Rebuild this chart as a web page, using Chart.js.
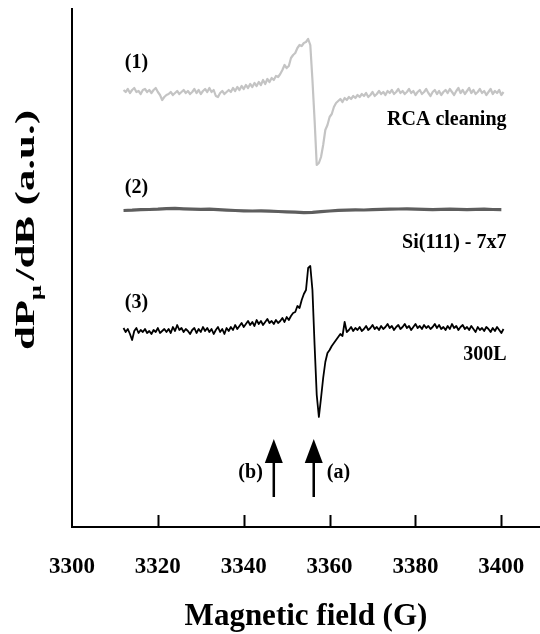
<!DOCTYPE html>
<html>
<head>
<meta charset="utf-8">
<script src="https://cdn.jsdelivr.net/npm/chart.js@4"></script>
<style>
  body { margin: 0; background: #fff; }
  canvas { display: block; }
</style>
</head>
<body>
<canvas id="eprChart" width="540" height="634"></canvas>
<script>
// field sweep (G) shared by traces (1) and (3)
var fieldG = [
  3312, 3312.5, 3313, 3313.5, 3314, 3314.5, 3315, 3315.5, 3316, 3316.5,
  3317, 3317.5, 3318, 3318.5, 3319, 3319.5, 3320, 3320.5, 3321, 3321.5,
  3322, 3322.5, 3323, 3323.5, 3324, 3324.5, 3325, 3325.5, 3326, 3326.5,
  3327, 3327.5, 3328, 3328.5, 3329, 3329.5, 3330, 3330.5, 3331, 3331.5,
  3332, 3332.5, 3333, 3333.5, 3334, 3334.5, 3335, 3335.5, 3336, 3336.5,
  3337, 3337.5, 3338, 3338.5, 3339, 3339.5, 3340, 3340.5, 3341, 3341.5,
  3342, 3342.5, 3343, 3343.5, 3344, 3344.5, 3345, 3345.5, 3346, 3346.5,
  3347, 3347.5, 3348, 3348.5, 3349, 3349.5, 3350, 3350.5, 3351, 3351.5,
  3352, 3352.5, 3353, 3353.5, 3354, 3354.5, 3355, 3355.5, 3356, 3356.5,
  3357, 3357.5, 3358, 3358.5, 3359, 3359.5, 3360, 3360.5, 3361, 3361.5,
  3362, 3362.5, 3363, 3363.5, 3364, 3364.5, 3365, 3365.5, 3366, 3366.5,
  3367, 3367.5, 3368, 3368.5, 3369, 3369.5, 3370, 3370.5, 3371, 3371.5,
  3372, 3372.5, 3373, 3373.5, 3374, 3374.5, 3375, 3375.5, 3376, 3376.5,
  3377, 3377.5, 3378, 3378.5, 3379, 3379.5, 3380, 3380.5, 3381, 3381.5,
  3382, 3382.5, 3383, 3383.5, 3384, 3384.5, 3385, 3385.5, 3386, 3386.5,
  3387, 3387.5, 3388, 3388.5, 3389, 3389.5, 3390, 3390.5, 3391, 3391.5,
  3392, 3392.5, 3393, 3393.5, 3394, 3394.5, 3395, 3395.5, 3396, 3396.5,
  3397, 3397.5, 3398, 3398.5, 3399, 3399.5, 3400, 3400.5
];

// (1) RCA cleaning, a.u. (offset trace)
var rcaCleaning = [
  437, 435, 438, 434, 437, 439, 435, 436, 433, 437,
  438, 435, 437, 434, 437, 439, 435, 432, 427, 430,
  432, 433, 435, 432, 434, 436, 433, 435, 437, 434,
  436, 433, 435, 438, 434, 437, 433, 436, 438, 435,
  439, 435, 437, 431, 430, 434, 436, 433, 435, 437,
  435, 439, 436, 440, 437, 441, 438, 442, 439, 443,
  440, 444, 441, 445, 442, 447, 443, 448, 445, 449,
  447, 451, 450, 453, 457, 462, 459, 461, 469, 472,
  474, 479, 482, 481, 484, 485, 488, 482, 447, 407,
  362, 364, 370, 382, 397, 402, 410, 413, 420, 424,
  426, 428, 425, 429, 427, 430, 428, 431, 429, 432,
  430, 433, 431, 434, 430, 432, 435, 431, 433, 436,
  433, 435, 432, 436, 434, 437, 433, 435, 438, 434,
  436, 433, 435, 438, 434, 436, 432, 435, 437, 433,
  435, 438, 434, 431, 435, 437, 433, 436, 432, 435,
  437, 434, 438, 435, 432, 436, 439, 434, 437, 433,
  436, 439, 434, 437, 433, 435, 438, 434, 436, 432,
  435, 438, 433, 436, 434, 437, 432, 435
];

// (3) 300L exposure, a.u. (offset trace)
var exposed300L = [
  199, 195, 198, 193, 187, 196, 199, 194, 197, 195,
  198, 194, 196, 193, 197, 195, 199, 194, 196, 198,
  195, 198, 194, 200, 196, 202, 197, 199, 195, 198,
  196, 193, 197, 199, 194, 198, 195, 200, 196, 199,
  195, 198, 193, 197, 200, 195, 198, 193, 199, 196,
  200, 197, 202, 198, 201, 204, 200, 203, 206, 202,
  205, 201, 207, 203, 206, 202, 205, 208, 204, 206,
  203, 207, 204, 206, 209, 205, 210, 207, 211, 214,
  215, 221, 219, 227, 233, 237, 259, 261, 237, 182,
  132, 110, 129, 149, 165, 174, 177, 181, 184, 187,
  190, 193, 191, 205, 195, 197, 200, 196, 199, 197,
  200, 196, 198, 201, 197, 199, 202, 198, 200, 197,
  201, 198, 200, 203, 199, 201, 197, 200, 202, 198,
  200, 203, 199, 201, 197, 200, 203, 199, 201, 198,
  202, 199, 201, 198, 200, 203, 199, 202, 198, 200,
  197, 201, 198, 203, 199, 201, 197, 200, 202, 198,
  200, 197, 201, 198, 195, 200, 197, 199, 196, 200,
  198, 195, 199, 196, 200, 197, 194, 198
];

// (2) Si(111) - 7x7, coarser sweep
var fieldSi = [
  3312, 3314, 3316, 3318, 3320, 3322, 3324, 3326, 3328, 3330,
  3332, 3334, 3336, 3338, 3340, 3342, 3344, 3346, 3348, 3350,
  3352, 3354, 3356, 3358, 3360, 3362, 3364, 3366, 3368, 3370,
  3372, 3374, 3376, 3378, 3380, 3382, 3384, 3386, 3388, 3390,
  3392, 3394, 3396, 3398, 3400
];
var si7x7 = [
  316.5, 316.8, 317.3, 317.5, 317.8, 318.3, 318.6, 318.2, 317.9, 317.6,
  317.8, 317.4, 316.9, 316.5, 316.2, 316.0, 316.1, 315.8, 315.5, 315.2,
  314.8, 314.4, 314.7, 315.3, 316.0, 316.6, 316.9, 317.2, 317.0, 317.3,
  317.6, 317.8, 318.0, 318.1, 317.9, 317.6, 317.4, 317.7, 317.9, 317.6,
  317.3, 317.6, 317.8, 317.5, 317.4
];

var tickFields = [3300, 3320, 3340, 3360, 3380, 3400];
var traceNames = ["(1)", "(2)", "(3)"];
var sampleNames = ["RCA cleaning", "Si(111) - 7x7", "300L"];
var arrowFields = [3356.3, 3347];
var arrowNames = ["(a)", "(b)"];

var serif = '"Liberation Serif", "Times New Roman", serif';

function pairs(xs, ys) {
  return ys.map(function (y, i) {
    return { x: xs[i], y: y };
  });
}

// labels, arrows, inward ticks and the y title
var decorations = {
  id: "decorations",
  afterDraw: function (chart) {
    var ctx = chart.ctx;
    var xS = chart.scales.x;
    var yS = chart.scales.y;
    var area = chart.chartArea;

    ctx.save();
    ctx.strokeStyle = "#000";
    ctx.lineWidth = 2;
    tickFields.slice(1).forEach(function (f) {
      var x = Math.round(xS.getPixelForValue(f)) + 0.5;
      ctx.beginPath();
      ctx.moveTo(x, area.bottom);
      ctx.lineTo(x, area.bottom - 12);
      ctx.stroke();
    });

    ctx.fillStyle = "#000";
    ctx.font = "bold 20px " + serif;
    ctx.textBaseline = "middle";
    var nameY = [464, 339, 224];
    var sampleY = [407, 284, 172];
    traceNames.forEach(function (t, i) {
      ctx.textAlign = "left";
      ctx.fillText(t, xS.getPixelForValue(3312.3), yS.getPixelForValue(nameY[i]));
      ctx.textAlign = "right";
      ctx.fillText(sampleNames[i], xS.getPixelForValue(3401.2), yS.getPixelForValue(sampleY[i]));
    });

    // arrows
    arrowFields.forEach(function (f, i) {
      var x = xS.getPixelForValue(f);
      var top = yS.getPixelForValue(88);
      var base = yS.getPixelForValue(64);
      var foot = yS.getPixelForValue(30);
      ctx.beginPath();
      ctx.moveTo(x, top);
      ctx.lineTo(x - 9, base);
      ctx.lineTo(x + 9, base);
      ctx.closePath();
      ctx.fill();
      ctx.lineWidth = 2.5;
      ctx.beginPath();
      ctx.moveTo(x, base - 1);
      ctx.lineTo(x, foot);
      ctx.stroke();
      var ly = yS.getPixelForValue(54);
      if (i === 0) {
        ctx.textAlign = "left";
        ctx.fillText(arrowNames[i], x + 13, ly);
      } else {
        ctx.textAlign = "right";
        ctx.fillText(arrowNames[i], x - 11, ly);
      }
    });

    // y title: dP_mu/dB (a.u.)
    var big = "bold 28px " + serif;
    var small = "bold 17px " + serif;
    ctx.font = big;
    var w1 = ctx.measureText("dP").width;
    var w3 = ctx.measureText("/dB (a.u.)").width;
    ctx.font = small;
    var w2 = ctx.measureText("\u03bc").width + 3;
    var total = w1 + w2 + w3;
    ctx.translate(34, 230);
    ctx.rotate(-Math.PI / 2);
    ctx.scale(240 / total, 1);
    ctx.textAlign = "left";
    ctx.textBaseline = "alphabetic";
    var sx = -total / 2;
    ctx.font = big;
    ctx.fillText("dP", sx, 0);
    ctx.font = small;
    ctx.fillText("\u03bc", sx + w1, 7);
    ctx.font = big;
    ctx.fillText("/dB (a.u.)", sx + w1 + w2, 0);
    ctx.restore();
  }
};

var ctx = document.getElementById("eprChart").getContext("2d");
var eprChart = new Chart(ctx, {
  type: "line",
  data: {
    datasets: [
      {
        label: "RCA cleaning",
        data: pairs(fieldG, rcaCleaning),
        borderColor: "#c4c4c4",
        borderWidth: 2.2,
      },
      {
        label: "Si(111) - 7x7",
        data: pairs(fieldSi, si7x7),
        borderColor: "#5e5e5e",
        borderWidth: 3.2,
      },
      {
        label: "300L",
        data: pairs(fieldG, exposed300L),
        borderColor: "#000000",
        borderWidth: 1.8,
      },
    ],
  },
  options: {
    responsive: false,
    animation: false,
    events: [],
    layout: { padding: { left: 72, top: 9, right: 0, bottom: 0 } },
    elements: {
      point: { radius: 0 },
      line: { tension: 0, borderJoinStyle: "round", fill: false },
    },
    plugins: {
      legend: { display: false },
      tooltip: { enabled: false },
    },
    scales: {
      x: {
        type: "linear",
        min: 3300,
        max: 3409,
        afterBuildTicks: function (s) {
          s.ticks = tickFields.map(function (v) { return { value: v }; });
        },
        afterFit: function (s) {
          s.height = 107;
          s.paddingLeft = 0;
          s.paddingRight = 0;
        },
        grid: { display: false, drawTicks: false },
        border: { display: true, color: "#000", width: 2 },
        ticks: {
          color: "#000",
          padding: 26,
          autoSkip: false,
          maxRotation: 0,
          font: { family: serif, size: 23, weight: "bold" },
          callback: function (v) { return String(v); },
        },
        title: {
          display: true,
          text: "Magnetic field (G)",
          color: "#000",
          font: { family: serif, size: 31, weight: "bold", lineHeight: 1.1 },
          padding: { top: 0, bottom: 0 },
        },
      },
      y: {
        min: 0,
        max: 518,
        ticks: { display: false },
        grid: { display: false, drawTicks: false },
        border: { display: true, color: "#000", width: 2 },
        afterFit: function (s) { s.width = 0; },
      },
    },
  },
  plugins: [decorations],
});
</script>
</body>
</html>
